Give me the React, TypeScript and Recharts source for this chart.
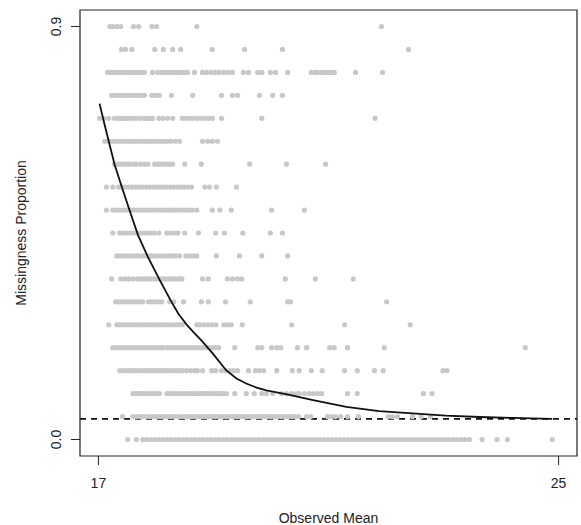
import React from 'react';
import { ScatterChart, Scatter, XAxis, YAxis, ReferenceLine, ReferenceArea } from 'recharts';

// Missingness levels (one row of points per level)
const levels = [0.9, 0.85, 0.8, 0.75, 0.7, 0.65, 0.6, 0.55, 0.5, 0.45, 0.4, 0.35, 0.3, 0.25, 0.2, 0.15, 0.1, 0.05, 0.0];

const row90 = [17.20, 17.25, 17.32, 17.39, 17.61, 17.70, 17.93, 18.01, 18.71, 21.92];
const row85 = [17.40, 17.47, 17.58, 17.98, 18.13, 18.29, 18.43, 18.98, 19.54, 20.20, 22.39];
const row80 = [17.16, 17.22, 17.28, 17.34, 17.40, 17.46, 17.52, 17.58, 17.64, 17.70, 17.76, 17.80, 17.94, 18.03, 18.09, 18.15, 18.21, 18.27, 18.33, 18.39, 18.45, 18.51, 18.55, 18.67, 18.81, 18.88, 18.96, 19.03, 19.10, 19.18, 19.26, 19.33, 19.52, 19.61, 19.77, 19.84, 19.99, 20.08, 20.29, 20.70, 20.76, 20.81, 20.89, 20.95, 21.00, 21.05, 21.10, 21.47, 21.94];
const row75 = [17.23, 17.28, 17.34, 17.39, 17.44, 17.49, 17.54, 17.60, 17.65, 17.70, 17.75, 17.80, 17.93, 18.00, 18.06, 18.27, 18.64, 19.14, 19.33, 19.42, 19.80, 20.03, 20.20];
const row70 = [17.02, 17.09, 17.18, 17.28, 17.34, 17.39, 17.44, 17.49, 17.54, 17.60, 17.65, 17.72, 17.79, 17.84, 17.89, 17.94, 18.05, 18.12, 18.20, 18.29, 18.46, 18.52, 18.59, 18.64, 18.71, 18.78, 18.85, 18.91, 18.98, 19.14, 19.84, 21.81];
const row65 = [17.11, 17.16, 17.21, 17.27, 17.32, 17.37, 17.42, 17.47, 17.53, 17.58, 17.63, 17.68, 17.73, 17.79, 17.84, 17.89, 17.94, 17.99, 18.05, 18.10, 18.15, 18.20, 18.26, 18.34, 18.41, 18.81, 18.90, 18.98, 19.07];
const row60 = [17.28, 17.34, 17.39, 17.44, 17.49, 17.54, 17.61, 17.66, 17.73, 17.80, 17.86, 17.98, 18.03, 18.08, 18.13, 18.19, 18.24, 18.29, 18.50, 18.79, 19.63, 20.27, 20.95];
const row55 = [17.14, 17.25, 17.35, 17.41, 17.47, 17.53, 17.59, 17.65, 17.71, 17.77, 17.83, 17.89, 17.95, 18.01, 18.07, 18.13, 18.19, 18.25, 18.31, 18.37, 18.43, 18.49, 18.55, 18.62, 18.85, 18.93, 19.05, 19.40];
const row50 = [17.14, 17.25, 17.31, 17.37, 17.43, 17.49, 17.55, 17.61, 17.67, 17.73, 17.79, 17.85, 17.91, 17.97, 18.03, 18.09, 18.15, 18.21, 18.27, 18.33, 18.39, 18.45, 18.51, 18.57, 18.63, 18.71, 18.98, 19.11, 19.31, 20.01, 20.58];
const row45 = [17.25, 17.37, 17.43, 17.49, 17.55, 17.61, 17.67, 17.73, 17.79, 17.85, 17.91, 17.97, 18.05, 18.19, 18.24, 18.31, 18.38, 18.50, 18.74, 19.04, 19.19, 19.51, 19.99, 20.20];
const row40 = [17.32, 17.38, 17.44, 17.50, 17.56, 17.62, 17.68, 17.74, 17.80, 17.86, 17.92, 17.98, 18.04, 18.10, 18.16, 18.22, 18.28, 18.34, 18.41, 18.52, 18.59, 18.65, 18.71, 19.05, 19.45, 19.84, 20.29];
const row35 = [17.23, 17.39, 17.46, 17.53, 17.60, 17.68, 17.74, 17.80, 17.86, 17.92, 17.98, 18.04, 18.10, 18.16, 18.22, 18.28, 18.34, 18.40, 18.45, 18.81, 18.91, 19.24, 19.33, 19.42, 19.49, 20.25, 20.77, 21.43];
const row30 = [17.30, 17.35, 17.40, 17.46, 17.51, 17.56, 17.61, 17.66, 17.72, 17.77, 17.87, 17.93, 17.99, 18.05, 18.10, 18.24, 18.31, 18.48, 18.79, 18.91, 19.21, 19.64, 20.29, 20.34, 22.01];
const row25 = [17.18, 17.32, 17.37, 17.42, 17.47, 17.53, 17.58, 17.63, 17.68, 17.73, 17.79, 17.84, 17.89, 17.94, 17.99, 18.05, 18.10, 18.15, 18.20, 18.25, 18.30, 18.36, 18.41, 18.46, 18.71, 18.76, 18.83, 18.90, 18.97, 19.04, 19.18, 19.24, 19.31, 19.50, 20.36, 21.28, 22.42];
const row20 = [17.25, 17.30, 17.35, 17.40, 17.46, 17.51, 17.56, 17.61, 17.66, 17.72, 17.77, 17.82, 17.87, 17.92, 17.98, 18.03, 18.08, 18.13, 18.20, 18.25, 18.30, 18.36, 18.41, 18.46, 18.51, 18.56, 18.62, 18.67, 18.72, 18.77, 18.82, 18.88, 18.93, 18.98, 19.03, 19.09, 19.37, 19.77, 19.84, 20.01, 20.10, 20.17, 20.46, 20.62, 21.02, 21.10, 21.33, 21.97, 24.42];
const row15 = [17.37, 17.42, 17.47, 17.53, 17.58, 17.63, 17.68, 17.73, 17.79, 17.84, 17.89, 17.94, 17.99, 18.05, 18.10, 18.15, 18.20, 18.25, 18.31, 18.36, 18.41, 18.46, 18.53, 18.60, 18.67, 18.72, 18.81, 18.97, 19.04, 19.14, 19.21, 19.28, 19.35, 19.42, 19.61, 19.73, 19.80, 19.87, 20.10, 20.37, 20.49, 20.70, 20.89, 21.28, 21.50, 21.80, 21.95, 22.99, 23.06];
const row10 = [17.60, 17.65, 17.70, 17.75, 17.80, 17.86, 17.91, 17.96, 18.01, 18.06, 18.19, 18.24, 18.29, 18.34, 18.39, 18.45, 18.50, 18.55, 18.60, 18.65, 18.71, 18.76, 18.81, 18.86, 18.91, 18.97, 19.02, 19.07, 19.12, 19.17, 19.23, 19.37, 19.57, 19.71, 19.84, 19.92, 20.03, 20.18, 20.27, 20.36, 20.44, 20.49, 20.58, 20.67, 20.74, 20.81, 20.88, 21.33, 21.50, 22.65, 22.80];
const row05 = [17.42, 17.60, 17.66, 17.72, 17.78, 17.84, 17.90, 17.96, 18.02, 18.08, 18.14, 18.20, 18.26, 18.32, 18.38, 18.44, 18.50, 18.56, 18.62, 18.68, 18.74, 18.80, 18.86, 18.92, 18.98, 19.04, 19.10, 19.16, 19.22, 19.28, 19.34, 19.40, 19.46, 19.52, 19.58, 19.64, 19.70, 19.76, 19.82, 19.88, 19.94, 20.00, 20.06, 20.12, 20.18, 20.24, 20.30, 20.36, 20.42, 20.48, 20.62, 20.69, 20.98, 21.05, 21.12, 21.21, 21.33, 21.52, 22.04, 22.11, 22.20, 22.46, 22.61, 22.77];
const row00 = [17.51, 17.66, 17.77, 17.84, 17.91, 17.98, 18.05, 18.12, 18.19, 18.26, 18.33, 18.40, 18.47, 18.54, 18.61, 18.68, 18.75, 18.82, 18.89, 18.96, 19.03, 19.10, 19.17, 19.24, 19.31, 19.38, 19.45, 19.52, 19.59, 19.66, 19.73, 19.80, 19.87, 19.94, 20.01, 20.08, 20.15, 20.22, 20.29, 20.36, 20.43, 20.50, 20.57, 20.64, 20.71, 20.78, 20.85, 20.92, 20.99, 21.06, 21.13, 21.20, 21.27, 21.34, 21.41, 21.48, 21.55, 21.62, 21.69, 21.76, 21.83, 21.90, 21.97, 22.04, 22.11, 22.18, 22.25, 22.32, 22.39, 22.46, 22.53, 22.60, 22.67, 22.74, 22.81, 22.88, 22.95, 23.02, 23.09, 23.16, 23.23, 23.30, 23.37, 23.45, 23.67, 23.93, 24.11, 24.89];

const rows = [row90, row85, row80, row75, row70, row65, row60, row55, row50, row45, row40, row35, row30, row25, row20, row15, row10, row05, row00];

// Smoothed fit curve
const curveX = [17.02, 17.11, 17.28, 17.41, 17.54, 17.69, 17.86, 18.06, 18.27, 18.39, 18.53, 18.66, 18.79, 18.99, 19.22, 19.40, 19.57, 19.75, 19.92, 20.32, 20.73, 21.31, 21.88, 22.46, 23.04, 23.62, 24.20, 24.89];
const curveY = [0.732, 0.685, 0.600, 0.549, 0.500, 0.445, 0.398, 0.349, 0.300, 0.274, 0.251, 0.233, 0.216, 0.187, 0.151, 0.133, 0.122, 0.113, 0.107, 0.097, 0.086, 0.071, 0.062, 0.057, 0.052, 0.049, 0.047, 0.045];

const baseline = 0.045;
const xTicks = [17, 25];
const yTicks = [0, 0.9];
const xDomain = [16.68, 25.32];
const yDomain = [-0.036, 0.936];

const pointData = rows.flatMap((xs, i) => xs.map((x) => ({ x, y: levels[i] })));
const curveData = curveX.map((x, i) => ({ x, y: curveY[i] }));

const FONT = '"Liberation Sans", Arial, Helvetica, sans-serif';

const Dot = (props: any) => <circle cx={props.cx} cy={props.cy} r={2.6} fill="#c8c8c8" />;
const NoDot = () => <g />;

const XTick = (props: any) => (
  <text x={props.x} y={487.5} textAnchor="middle" fontSize={14} fontFamily={FONT} fill="#222">
    {props.payload.value}
  </text>
);

const YTick = (props: any) => (
  <text
    transform={`translate(60.5, ${props.y}) rotate(-90)`}
    textAnchor="middle"
    fontSize={14}
    fontFamily={FONT}
    fill="#222"
  >
    {Number(props.payload.value).toFixed(1)}
  </text>
);

export default function App() {
  return (
    <div style={{ position: 'absolute', left: 0, top: 0, width: 581, height: 525, background: '#fff' }}>
      <ScatterChart width={581} height={525} margin={{ top: 10, right: 4, bottom: 0, left: 0 }}>
        <XAxis
          type="number"
          dataKey="x"
          domain={xDomain}
          ticks={xTicks}
          allowDataOverflow
          axisLine={false}
          tickSize={9}
          tickLine={{ stroke: '#222', strokeWidth: 1 }}
          tick={<XTick />}
          height={69}
          label={{
            content: () => (
              <text x={328.5} y={522.5} textAnchor="middle" fontSize={14} fontFamily={FONT} fill="#222">
                Observed Mean
              </text>
            ),
          }}
        />
        <YAxis
          type="number"
          dataKey="y"
          domain={yDomain}
          ticks={yTicks}
          allowDataOverflow
          axisLine={false}
          tickSize={9}
          tickLine={{ stroke: '#222', strokeWidth: 1 }}
          tick={<YTick />}
          width={80}
          label={{
            content: () => (
              <text
                transform="translate(25.5, 233) rotate(-90)"
                textAnchor="middle"
                fontSize={14}
                fontFamily={FONT}
                fill="#222"
              >
                Missingness Proportion
              </text>
            ),
          }}
        />
        <Scatter data={pointData} shape={<Dot />} isAnimationActive={false} />
        <Scatter
          data={curveData}
          shape={<NoDot />}
          line={{ stroke: '#111', strokeWidth: 1.8 }}
          lineType="joint"
          isAnimationActive={false}
        />
        <ReferenceLine y={baseline} stroke="#111" strokeWidth={1.6} strokeDasharray="6 5" />
        <ReferenceArea
          x1={xDomain[0]}
          x2={xDomain[1]}
          y1={yDomain[0]}
          y2={yDomain[1]}
          fill="none"
          stroke="#222"
          strokeWidth={1.2}
          fillOpacity={0}
        />
      </ScatterChart>
    </div>
  );
}
